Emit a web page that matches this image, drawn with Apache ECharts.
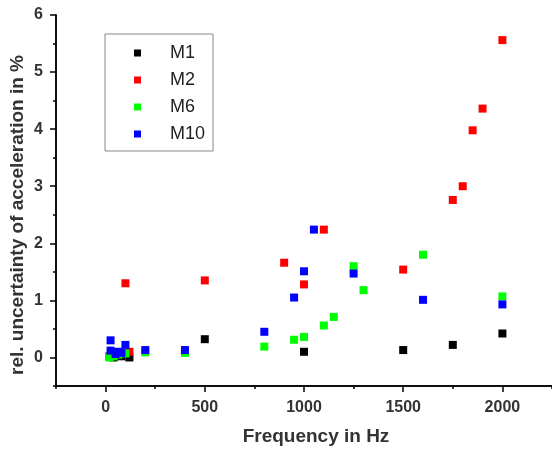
<!DOCTYPE html>
<html>
<head>
<meta charset="utf-8">
<script src="https://cdn.jsdelivr.net/npm/echarts@6/dist/echarts.min.js"></script>
<style>
  html, body { margin: 0; padding: 0; background: #fff; }
  #chart { width: 552px; height: 450px; }
</style>
</head>
<body>
<div id="chart"></div>
<script>
// measurement points [frequency in Hz, rel. uncertainty in %]
const m1 = [[20, 0.02], [40, 0.0], [63, 0.03], [80, 0.02], [120, 0.0], [500, 0.32], [1000, 0.1], [1500, 0.13], [1750, 0.22], [2000, 0.42]];
const m2 = [[100, 1.3], [120, 0.1], [500, 1.35], [900, 1.66], [1000, 1.28], [1100, 2.24], [1500, 1.54], [1750, 2.76], [1800, 3.0], [1850, 3.98], [1900, 4.36], [2000, 5.56]];
const m6 = [[20, 0.0], [40, 0.02], [63, 0.05], [100, 0.07], [200, 0.09], [400, 0.08], [800, 0.19], [950, 0.31], [1000, 0.36], [1100, 0.56], [1150, 0.71], [1250, 1.6], [1300, 1.18], [1600, 1.8], [2000, 1.07]];
const m10 = [[25, 0.3], [25, 0.12], [50, 0.06], [63, 0.1], [80, 0.08], [100, 0.22], [200, 0.13], [400, 0.13], [800, 0.45], [950, 1.05], [1000, 1.51], [1050, 2.24], [1250, 1.47], [1600, 1.01], [2000, 0.93]];

const seriesNames = ['M1', 'M2', 'M6', 'M10'];
const seriesColors = ['#000000', '#ff0000', '#00ff00', '#0000ff'];

const xTicks = [0, 500, 1000, 1500, 2000];
const xMinorTicks = [-250, 250, 750, 1250, 1750, 2250];
const yTicks = [0, 1, 2, 3, 4, 5, 6];
const yMinorTicks = [-0.5, 0.5, 1.5, 2.5, 3.5, 4.5, 5.5];

const xTitle = 'Frequency in Hz';
const yTitle = 'rel. uncertainty of acceleration in %';

const chart = echarts.init(document.getElementById('chart'));

const font = '"Liberation Sans", Arial, sans-serif';
const textColor = '#333';

// axis that only draws a set of ticks on the grid edge
const tickAxis = (min, max, position, values, length) => ({
  type: 'value',
  min: min,
  max: max,
  position: position,
  splitLine: { show: false },
  axisLine: { show: true, onZero: false, lineStyle: { color: '#000', width: 1.5 } },
  axisTick: { show: true, customValues: values, length: length, lineStyle: { color: '#000', width: 1.5 } },
  axisLabel: { show: false },
});

const labelStyle = {
  fontFamily: font,
  fontSize: 16,
  fontWeight: 'bold',
  color: textColor,
  formatter: (v) => String(v),
};

const option = {
  animation: false,
  color: seriesColors,
  grid: { left: 56, right: 0, top: 15, bottom: 64, outerBoundsMode: 'none' },
  legend: {
    data: seriesNames,
    orient: 'vertical',
    left: 105,
    top: 34,
    icon: 'rect',
    itemWidth: 7,
    itemHeight: 7,
    itemGap: 9,
    padding: [10, 8, 8, 29],
    borderColor: '#888',
    borderWidth: 1,
    textStyle: {
      fontFamily: font,
      fontSize: 18,
      color: '#222',
      padding: [0, 0, 0, 24],
    },
  },
  // axis titles
  graphic: [
    {
      type: 'text',
      x: 316,
      y: 437,
      style: {
        text: xTitle,
        textAlign: 'center',
        textVerticalAlign: 'middle',
        font: 'bold 19px ' + font,
        fill: textColor,
      },
    },
    {
      type: 'text',
      x: 18,
      y: 215,
      rotation: Math.PI / 2,
      style: {
        text: yTitle,
        textAlign: 'center',
        textVerticalAlign: 'middle',
        font: 'bold 19px ' + font,
        fill: textColor,
      },
    },
  ],
  xAxis: [
    {
      ...tickAxis(-250, 2250, 'bottom', xTicks, 6),
      axisLabel: { ...labelStyle, show: true, customValues: xTicks, margin: 14 },
    },
    tickAxis(-250, 2250, 'bottom', xMinorTicks, 3),
  ],
  yAxis: [
    {
      ...tickAxis(-0.5, 6, 'left', yTicks, 6),
      axisLabel: { ...labelStyle, show: true, customValues: yTicks, margin: 13 },
    },
    tickAxis(-0.5, 6, 'left', yMinorTicks, 3),
  ],
  series: [m1, m2, m6, m10].map((data, i) => ({
    name: seriesNames[i],
    type: 'scatter',
    symbol: 'rect',
    symbolSize: 8,
    data: data,
    itemStyle: { color: seriesColors[i], opacity: 1 },
  })),
};

chart.setOption(option);

window.addEventListener('resize', () => chart.resize());
</script>
</body>
</html>
